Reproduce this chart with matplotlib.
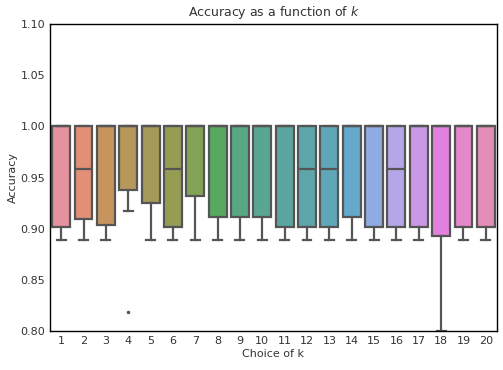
import numpy as np
import matplotlib
matplotlib.use('Agg')
import matplotlib.pyplot as plt
import seaborn as sns

# per-k box statistics
k_values = list(range(1, 21))
q1 = [0.902, 0.909, 0.904, 0.9375, 0.925, 0.902, 0.932, 0.911, 0.911, 0.911,
      0.902, 0.902, 0.902, 0.911, 0.902, 0.902, 0.902, 0.893, 0.902, 0.902]
medians = [1.0, 0.958, 1.0, 1.0, 1.0, 0.958, 1.0, 1.0, 1.0, 1.0,
           1.0, 0.958, 0.958, 1.0, 1.0, 0.958, 1.0, 1.0, 1.0, 1.0]
q3 = [1.0] * 20
whisker_low = [0.889, 0.889, 0.889, 0.917, 0.889, 0.889, 0.889, 0.889, 0.889, 0.889,
               0.889, 0.889, 0.889, 0.889, 0.889, 0.889, 0.889, 0.80, 0.889, 0.889]
whisker_high = [1.0] * 20
outliers = [[], [], [], [0.8186], [], [], [], [], [], [],
            [], [], [], [], [], [], [], [], [], []]

stats = []
for i in range(len(k_values)):
    stats.append({'q1': q1[i], 'med': medians[i], 'q3': q3[i],
                  'whislo': whisker_low[i], 'whishi': whisker_high[i],
                  'fliers': outliers[i], 'label': str(k_values[i])})

# husl palette, desaturated and a touch lighter like the original render
colors = []
for c in sns.color_palette("husl", len(k_values)):
    c = np.array(sns.desaturate(c, 0.7))
    colors.append(tuple(c + (1 - c) * 0.1))
line_gray = '#555555'

fig = plt.figure(figsize=(5.03, 3.70), dpi=100)
ax = fig.add_axes([0.0994, 0.1054, 0.8886, 0.8296])

bp = ax.bxp(stats, positions=range(len(k_values)), widths=0.8, patch_artist=True,
            boxprops=dict(edgecolor=line_gray, linewidth=1.6),
            medianprops=dict(color=line_gray, linewidth=1.6),
            whiskerprops=dict(color=line_gray, linewidth=1.6),
            capprops=dict(color=line_gray, linewidth=1.6),
            flierprops=dict(marker='o', markersize=1.5, markerfacecolor=line_gray,
                            markeredgecolor=line_gray))
for box, c in zip(bp['boxes'], colors):
    box.set_facecolor(c)
for cap in bp['caps']:
    x = cap.get_xdata()
    mid = x.mean()
    cap.set_xdata([mid - 0.2, mid + 0.2])

ax.set_xlim(-0.5, len(k_values) - 0.5)
ax.set_ylim(0.80, 1.10)
ax.set_yticks(np.arange(0.80, 1.101, 0.05))
ax.set_yticklabels(['%.2f' % v for v in np.arange(0.80, 1.101, 0.05)])
ax.tick_params(length=0, labelsize=8, colors='#333333')
for s in ax.spines.values():
    s.set_linewidth(1.0)

ax.set_title('Accuracy as a function of $k$', fontsize=9, color='#333333')
ax.set_xlabel('Choice of k', fontsize=8, color='#333333', labelpad=2)
ax.set_ylabel('Accuracy', fontsize=8, color='#333333', labelpad=2)

fig.savefig('out.png', dpi=100)
